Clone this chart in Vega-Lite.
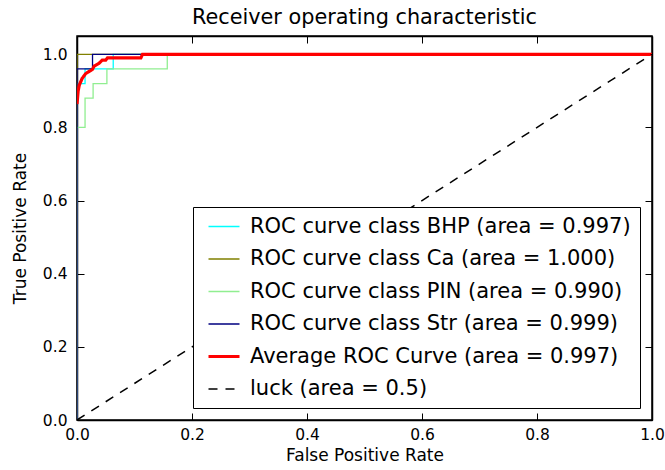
{
  "$schema": "https://vega.github.io/schema/vega-lite/v6.json",
  "width": 575,
  "height": 384,
  "autosize": {"type": "none"},
  "padding": {"left": 77, "top": 36, "right": 13, "bottom": 50},
  "background": "white",
  "title": {"text": "Receiver operating characteristic", "font": "DejaVu Sans", "fontSize": 20.8, "fontWeight": "normal", "color": "black", "offset": 7},
  "config": {
    "view": {"stroke": "black", "strokeWidth": 1.5},
    "axis": {
      "labelFont": "DejaVu Sans", "labelFontSize": 15.5, "labelColor": "black",
      "titleFont": "DejaVu Sans", "titleFontSize": 17, "titleFontWeight": "normal", "titleColor": "black",
      "domainColor": "black", "domainWidth": 1.5, "tickColor": "black", "tickSize": -7, "tickWidth": 1,
      "grid": false, "labelFlush": false, "labelOverlap": false
    },
    "legend": {
      "orient": "none", "legendX": 116, "legendY": 171,
      "strokeColor": "black", "fillColor": "white", "padding": 9,
      "labelFont": "DejaVu Sans", "labelFontSize": 21, "labelColor": "black", "labelLimit": 500,
      "symbolType": "stroke", "symbolSize": 961, "rowPadding": 10.5,
      "symbolStrokeWidth": 1.3, "cornerRadius": 0
    }
  },
  "datasets": {
    "curves": [
      {"series": "ROC curve class BHP (area = 0.997)", "i": 0, "fpr": 0, "tpr": 0},
      {"series": "ROC curve class BHP (area = 0.997)", "i": 1, "fpr": 0, "tpr": 0.92},
      {"series": "ROC curve class BHP (area = 0.997)", "i": 2, "fpr": 0.014, "tpr": 0.92},
      {"series": "ROC curve class BHP (area = 0.997)", "i": 3, "fpr": 0.014, "tpr": 0.96},
      {"series": "ROC curve class BHP (area = 0.997)", "i": 4, "fpr": 0.063, "tpr": 0.96},
      {"series": "ROC curve class BHP (area = 0.997)", "i": 5, "fpr": 0.063, "tpr": 1.0},
      {"series": "ROC curve class BHP (area = 0.997)", "i": 6, "fpr": 1.0, "tpr": 1.0},
      {"series": "ROC curve class Ca (area = 1.000)", "i": 0, "fpr": 0, "tpr": 0},
      {"series": "ROC curve class Ca (area = 1.000)", "i": 1, "fpr": 0, "tpr": 1.0},
      {"series": "ROC curve class Ca (area = 1.000)", "i": 2, "fpr": 1.0, "tpr": 1.0},
      {"series": "ROC curve class PIN (area = 0.990)", "i": 0, "fpr": 0, "tpr": 0},
      {"series": "ROC curve class PIN (area = 0.990)", "i": 1, "fpr": 0, "tpr": 0.8},
      {"series": "ROC curve class PIN (area = 0.990)", "i": 2, "fpr": 0.014, "tpr": 0.8},
      {"series": "ROC curve class PIN (area = 0.990)", "i": 3, "fpr": 0.014, "tpr": 0.88},
      {"series": "ROC curve class PIN (area = 0.990)", "i": 4, "fpr": 0.028, "tpr": 0.88},
      {"series": "ROC curve class PIN (area = 0.990)", "i": 5, "fpr": 0.028, "tpr": 0.92},
      {"series": "ROC curve class PIN (area = 0.990)", "i": 6, "fpr": 0.052, "tpr": 0.92},
      {"series": "ROC curve class PIN (area = 0.990)", "i": 7, "fpr": 0.052, "tpr": 0.96},
      {"series": "ROC curve class PIN (area = 0.990)", "i": 8, "fpr": 0.157, "tpr": 0.96},
      {"series": "ROC curve class PIN (area = 0.990)", "i": 9, "fpr": 0.157, "tpr": 1.0},
      {"series": "ROC curve class PIN (area = 0.990)", "i": 10, "fpr": 1.0, "tpr": 1.0},
      {"series": "ROC curve class Str (area = 0.999)", "i": 0, "fpr": 0, "tpr": 0},
      {"series": "ROC curve class Str (area = 0.999)", "i": 1, "fpr": 0, "tpr": 0.96},
      {"series": "ROC curve class Str (area = 0.999)", "i": 2, "fpr": 0.027, "tpr": 0.96},
      {"series": "ROC curve class Str (area = 0.999)", "i": 3, "fpr": 0.027, "tpr": 1.0},
      {"series": "ROC curve class Str (area = 0.999)", "i": 4, "fpr": 1.0, "tpr": 1.0}
    ],
    "average": [
      {"series": "Average ROC Curve (area = 0.997)", "i": 0, "fpr": 0, "tpr": 0.864},
      {"series": "Average ROC Curve (area = 0.997)", "i": 1, "fpr": 0.002, "tpr": 0.9},
      {"series": "Average ROC Curve (area = 0.997)", "i": 2, "fpr": 0.004, "tpr": 0.916},
      {"series": "Average ROC Curve (area = 0.997)", "i": 3, "fpr": 0.009, "tpr": 0.934},
      {"series": "Average ROC Curve (area = 0.997)", "i": 4, "fpr": 0.015, "tpr": 0.947},
      {"series": "Average ROC Curve (area = 0.997)", "i": 5, "fpr": 0.02, "tpr": 0.952},
      {"series": "Average ROC Curve (area = 0.997)", "i": 6, "fpr": 0.027, "tpr": 0.959},
      {"series": "Average ROC Curve (area = 0.997)", "i": 7, "fpr": 0.03, "tpr": 0.968},
      {"series": "Average ROC Curve (area = 0.997)", "i": 8, "fpr": 0.038, "tpr": 0.975},
      {"series": "Average ROC Curve (area = 0.997)", "i": 9, "fpr": 0.044, "tpr": 0.984},
      {"series": "Average ROC Curve (area = 0.997)", "i": 10, "fpr": 0.05, "tpr": 0.984},
      {"series": "Average ROC Curve (area = 0.997)", "i": 11, "fpr": 0.053, "tpr": 0.99},
      {"series": "Average ROC Curve (area = 0.997)", "i": 12, "fpr": 0.111, "tpr": 0.99},
      {"series": "Average ROC Curve (area = 0.997)", "i": 13, "fpr": 0.114, "tpr": 1.0},
      {"series": "Average ROC Curve (area = 0.997)", "i": 14, "fpr": 1.0, "tpr": 1.0}
    ],
    "luck": [
      {"series": "luck (area = 0.5)", "i": 0, "fpr": 0, "tpr": 0},
      {"series": "luck (area = 0.5)", "i": 1, "fpr": 1, "tpr": 1}
    ]
  },
  "layer": [
    {
      "data": {"name": "curves"},
      "mark": {"type": "line", "clip": true, "strokeWidth": 1.3},
      "encoding": {
        "x": {"field": "fpr", "type": "quantitative", "title": "False Positive Rate",
              "scale": {"domain": [0, 1], "nice": false, "zero": false},
              "axis": {"orient": "bottom", "values": [0, 0.2, 0.4, 0.6, 0.8, 1.0], "format": ".1f", "labelPadding": 14, "titlePadding": 5}},
        "y": {"field": "tpr", "type": "quantitative", "title": "True Positive Rate",
              "scale": {"domain": [0, 1.05], "nice": false, "zero": false},
              "axis": {"orient": "left", "values": [0, 0.2, 0.4, 0.6, 0.8, 1.0], "format": ".1f", "labelPadding": 17, "titlePadding": 13}},
        "color": {"field": "series", "type": "nominal", "title": null,
                  "scale": {"domain": ["ROC curve class BHP (area = 0.997)", "ROC curve class Ca (area = 1.000)", "ROC curve class PIN (area = 0.990)", "ROC curve class Str (area = 0.999)", "Average ROC Curve (area = 0.997)", "luck (area = 0.5)"],
                            "range": ["#00ffff", "#808000", "#90ee90", "#000080", "#ff0000", "#000000"]},
                  "legend": {"labelOffset": 27, "encode": {"symbols": {"update": {"x": {"value": 22}, "strokeWidth": {"signal": "datum.value === 'Average ROC Curve (area = 0.997)' ? 3.2 : 1.3"}}}}}},
        "strokeDash": {"field": "series", "type": "nominal", "title": null,
                  "scale": {"domain": ["ROC curve class BHP (area = 0.997)", "ROC curve class Ca (area = 1.000)", "ROC curve class PIN (area = 0.990)", "ROC curve class Str (area = 0.999)", "Average ROC Curve (area = 0.997)", "luck (area = 0.5)"],
                            "range": [[1, 0], [1, 0], [1, 0], [1, 0], [1, 0], [9, 8]]}},
        "order": {"field": "i", "type": "quantitative"}
      }
    },
    {
      "data": {"name": "average"},
      "mark": {"type": "line", "clip": true, "strokeWidth": 3.2},
      "encoding": {
        "x": {"field": "fpr", "type": "quantitative", "axis": null},
        "y": {"field": "tpr", "type": "quantitative", "axis": null},
        "color": {"field": "series", "type": "nominal", "title": null},
        "strokeDash": {"field": "series", "type": "nominal", "title": null},
        "order": {"field": "i", "type": "quantitative"}
      }
    },
    {
      "data": {"name": "luck"},
      "mark": {"type": "line", "clip": true, "strokeWidth": 1.5},
      "encoding": {
        "x": {"field": "fpr", "type": "quantitative", "title": null,
              "scale": {"domain": [0, 1], "nice": false, "zero": false},
              "axis": {"orient": "top", "values": [0, 0.2, 0.4, 0.6, 0.8, 1.0], "labels": false, "title": null}},
        "y": {"field": "tpr", "type": "quantitative", "title": null,
              "scale": {"domain": [0, 1.05], "nice": false, "zero": false},
              "axis": {"orient": "right", "values": [0, 0.2, 0.4, 0.6, 0.8, 1.0], "labels": false, "title": null}},
        "color": {"field": "series", "type": "nominal", "title": null},
        "strokeDash": {"field": "series", "type": "nominal", "title": null},
        "order": {"field": "i", "type": "quantitative"}
      }
    }
  ],
  "resolve": {"axis": {"x": "independent", "y": "independent"}}
}
